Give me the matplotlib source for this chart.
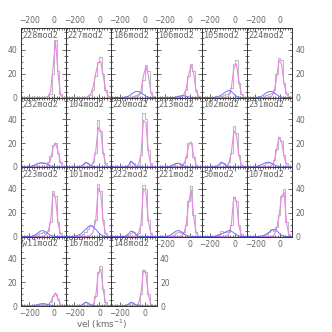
import matplotlib.pyplot as plt
from matplotlib.ticker import MultipleLocator

# bin centres (km/s)
vel = [-250, -230, -210, -190, -170, -150, -130, -110, -90, -70,
       -50, -30, -10, 10, 30, 50, 70, 90]

names = ['228mod2', '227mod2', '186mod2', '106mod2', '105mod2', '224mod2',
         '232mod2', '104mod2', '220mod2', '213mod2', '102mod2', '231mod2',
         '223mod2', '101mod2', '222mod2', '221mod2', '50mod2', '107mod2',
         'w11mod2', '167mod2', '148mod2']

# observed histograms
hist = [
    [0, 0, 0, 0, 0, 0, 0, 0, 0, 0, 1, 3, 20, 48, 22, 3, 0, 0],
    [0, 0, 0, 0, 0, 0, 0, 0, 1, 2, 6, 18, 30, 34, 20, 6, 1, 0],
    [0, 0, 0, 0, 0, 0, 0, 0, 1, 2, 3, 5, 15, 27, 22, 5, 1, 0],
    [0, 0, 0, 0, 0, 0, 0, 0, 1, 1, 2, 6, 18, 28, 22, 6, 1, 0],
    [0, 0, 0, 0, 0, 0, 0, 1, 2, 3, 4, 8, 28, 31, 12, 3, 0, 0],
    [0, 0, 0, 0, 0, 0, 1, 2, 3, 4, 6, 20, 33, 31, 12, 4, 1, 0],
    [0, 0, 0, 1, 1, 2, 3, 3, 3, 3, 4, 9, 18, 20, 12, 4, 0, 0],
    [0, 0, 0, 0, 0, 0, 1, 3, 3, 2, 4, 12, 39, 30, 12, 3, 0, 0],
    [0, 0, 0, 0, 0, 0, 1, 4, 3, 1, 2, 10, 45, 40, 14, 3, 0, 0],
    [0, 0, 0, 0, 0, 1, 2, 3, 3, 2, 3, 8, 20, 20, 8, 2, 0, 0],
    [0, 0, 0, 0, 0, 0, 1, 3, 3, 2, 4, 12, 34, 28, 10, 2, 0, 0],
    [0, 0, 0, 0, 1, 1, 2, 3, 4, 3, 6, 15, 25, 22, 10, 3, 0, 0],
    [0, 0, 0, 0, 0, 1, 2, 3, 4, 3, 5, 12, 38, 34, 12, 3, 0, 0],
    [0, 0, 0, 0, 0, 1, 2, 4, 6, 10, 9, 14, 44, 38, 14, 3, 0, 0],
    [0, 0, 0, 0, 0, 0, 1, 3, 4, 2, 3, 10, 43, 40, 14, 3, 0, 0],
    [0, 0, 0, 0, 0, 0, 1, 3, 4, 3, 4, 10, 30, 42, 18, 4, 0, 0],
    [0, 0, 0, 0, 0, 1, 2, 5, 4, 4, 4, 10, 33, 30, 10, 2, 0, 0],
    [0, 0, 0, 0, 0, 0, 1, 2, 4, 6, 5, 8, 18, 34, 40, 12, 2, 0],
    [0, 0, 0, 0, 0, 1, 1, 2, 2, 2, 2, 3, 8, 10, 6, 1, 0, 0],
    [0, 0, 0, 0, 0, 1, 2, 3, 2, 1, 2, 8, 28, 33, 14, 3, 0, 0],
    [0, 0, 0, 0, 0, 1, 2, 3, 2, 1, 2, 10, 30, 28, 10, 2, 0, 0],
]

# main model component (magenta)
fit_main = [
    [0, 0, 0, 0, 0, 0, 0, 0, 0, 0, 1, 5, 25, 47, 20, 2, 0, 0],
    [0, 0, 0, 0, 0, 0, 0, 0, 1, 3, 9, 20, 29, 30, 18, 6, 1, 0],
    [0, 0, 0, 0, 0, 0, 0, 0, 0, 0, 1, 5, 18, 26, 18, 4, 0, 0],
    [0, 0, 0, 0, 0, 0, 0, 0, 0, 1, 2, 7, 19, 27, 20, 5, 1, 0],
    [0, 0, 0, 0, 0, 0, 0, 0, 0, 0, 1, 8, 24, 28, 14, 3, 0, 0],
    [0, 0, 0, 0, 0, 0, 0, 0, 0, 1, 4, 16, 31, 28, 12, 3, 0, 0],
    [0, 0, 0, 0, 0, 0, 0, 0, 0, 0, 1, 6, 16, 20, 13, 4, 0, 0],
    [0, 0, 0, 0, 0, 0, 0, 0, 0, 1, 3, 13, 33, 30, 12, 2, 0, 0],
    [0, 0, 0, 0, 0, 0, 0, 0, 0, 0, 2, 10, 39, 37, 12, 2, 0, 0],
    [0, 0, 0, 0, 0, 0, 0, 0, 0, 0, 2, 7, 18, 21, 10, 2, 0, 0],
    [0, 0, 0, 0, 0, 0, 0, 0, 0, 0, 3, 12, 30, 27, 10, 2, 0, 0],
    [0, 0, 0, 0, 0, 0, 0, 0, 0, 1, 4, 14, 25, 21, 9, 2, 0, 0],
    [0, 0, 0, 0, 0, 0, 0, 0, 0, 1, 4, 12, 36, 32, 11, 2, 0, 0],
    [0, 0, 0, 0, 0, 0, 0, 0, 0, 1, 4, 13, 40, 36, 12, 2, 0, 0],
    [0, 0, 0, 0, 0, 0, 0, 0, 0, 0, 2, 10, 40, 37, 12, 2, 0, 0],
    [0, 0, 0, 0, 0, 0, 0, 0, 0, 0, 2, 9, 28, 39, 17, 3, 0, 0],
    [0, 0, 0, 0, 0, 0, 0, 0, 0, 0, 2, 10, 33, 30, 9, 1, 0, 0],
    [0, 0, 0, 0, 0, 0, 0, 0, 0, 0, 1, 6, 17, 33, 37, 11, 1, 0],
    [0, 0, 0, 0, 0, 0, 0, 0, 0, 0, 1, 3, 8, 11, 6, 1, 0, 0],
    [0, 0, 0, 0, 0, 0, 0, 0, 0, 0, 1, 8, 27, 31, 13, 2, 0, 0],
    [0, 0, 0, 0, 0, 0, 0, 0, 0, 0, 2, 10, 30, 27, 9, 1, 0, 0],
]

# second model component (blue)
fit_second = [
    [0, 0, 0, 0, 0, 0, 0, 0, 0, 0, 0, 0, 0, 0, 0, 0, 0, 0],
    [0, 0, 0, 0, 0, 0, 0, 0, 0, 0, 0, 0, 0, 0, 0, 0, 0, 0],
    [0, 0, 0, 0, 0, 0.5, 1, 2.5, 4, 5, 5, 4, 2.5, 1, 0.3, 0, 0, 0],
    [0, 0, 0, 0, 0, 0, 0, 0.5, 1, 1.5, 1.5, 1, 0.5, 0, 0, 0, 0, 0],
    [0, 0, 0, 0, 0, 0.5, 1, 2, 3.5, 5, 6, 5, 3, 1, 0.3, 0, 0, 0],
    [0, 0, 0, 0, 0.5, 1, 2.5, 4, 5, 5, 4, 2.5, 1, 0.3, 0, 0, 0, 0],
    [0, 0, 0, 0.5, 1, 2, 3, 3.5, 3.5, 3, 2, 1, 0.5, 0, 0, 0, 0, 0],
    [0, 0, 0, 0, 0, 0.5, 2, 4, 3, 1, 0.3, 0, 0, 0, 0, 0, 0, 0],
    [0, 0, 0, 0, 0, 0, 1, 5, 3, 0.5, 0, 0, 0, 0, 0, 0, 0, 0],
    [0, 0, 0, 0, 0.3, 1, 2, 3, 3, 2, 1, 0.3, 0, 0, 0, 0, 0, 0],
    [0, 0, 0, 0, 0, 0.5, 2, 4, 3, 1, 0.3, 0, 0, 0, 0, 0, 0, 0],
    [0, 0, 0, 0.3, 1, 2, 3, 4, 4, 3, 2, 1, 0.3, 0, 0, 0, 0, 0],
    [0, 0, 0, 0, 0.5, 1.5, 3, 4.5, 5, 4, 2.5, 1, 0.3, 0, 0, 0, 0, 0],
    [0, 0, 0, 0.3, 1, 2, 4, 6, 8, 9, 8, 6, 3.5, 1.5, 0.5, 0, 0, 0],
    [0, 0, 0, 0, 0, 0.5, 2, 4.5, 4, 1.5, 0.3, 0, 0, 0, 0, 0, 0, 0],
    [0, 0, 0, 0, 0.5, 1.5, 3, 4.5, 5, 4, 2.5, 1, 0.3, 0, 0, 0, 0, 0],
    [0, 0, 0, 0, 0, 0.5, 1, 2, 3, 4, 5, 4.5, 3, 1.5, 0.5, 0, 0, 0],
    [0, 0, 0, 0, 0, 0.3, 1, 2, 3.5, 5, 6, 5, 3, 1, 0.3, 0, 0, 0],
    [0, 0, 0, 0, 0.3, 0.7, 1.2, 1.8, 2, 1.8, 1.2, 0.7, 0.3, 0, 0, 0, 0, 0],
    [0, 0, 0, 0, 0, 0.5, 1.5, 3, 2.5, 1, 0.3, 0, 0, 0, 0, 0, 0, 0],
    [0, 0, 0, 0, 0, 0.5, 1.5, 3, 2.5, 1, 0.3, 0, 0, 0, 0, 0, 0, 0],
]

ncol, nrow = 6, 4
W, H = 332.0, 332.0
x0, y0 = 21.0, 28.0
pw, ph = 45.2, 69.5
text_col = '#666666'

fig = plt.figure(figsize=(3.32, 3.32), dpi=100)

for i, name in enumerate(names):
    r, c = divmod(i, ncol)
    left = (x0 + c * pw) / W
    bottom = 1 - (y0 + (r + 1) * ph) / H
    ax = fig.add_axes([left, bottom, pw / W, ph / H])
    ax.step(vel, hist[i], where='mid', color='#bcbcbc', lw=0.8)
    ax.plot(vel, fit_main[i], color='#e887e8', lw=0.8)
    ax.plot(vel, fit_second[i], color='#7070ff', lw=0.7)
    ax.axhline(0, color='#2a2a66', lw=1.0)
    ax.set_xlim(-265, 95)
    ax.set_ylim(0, 58)
    ax.xaxis.set_major_locator(MultipleLocator(200))
    ax.xaxis.set_minor_locator(MultipleLocator(20))
    ax.yaxis.set_major_locator(MultipleLocator(20))
    ax.yaxis.set_minor_locator(MultipleLocator(5))
    last_row = (r == nrow - 1) or (r == 2 and c >= 3)
    right_lab = (c == ncol - 1) or (i == len(names) - 1)
    ax.tick_params(which='both', direction='in', top=True, right=True,
                   labelsize=5.5, labelcolor=text_col, color='#333333',
                   width=0.5, pad=2.5,
                   labeltop=(r == 0), labelbottom=last_row,
                   labelleft=(c == 0), labelright=right_lab)
    ax.tick_params(which='major', length=3)
    ax.tick_params(which='minor', length=1.5)
    for s in ax.spines.values():
        s.set_linewidth(0.7)
        s.set_color('#333333')
    ax.text(0.03, 0.96, name, transform=ax.transAxes, ha='left', va='top',
            fontsize=6.1, family='DejaVu Sans Mono', color=text_col)

fig.text(102 / W, 1 - 324 / H, 'vel (kms$^{-1}$)', ha='center', va='center',
         fontsize=6.3, color=text_col)

fig.savefig('out.png', dpi=100)
